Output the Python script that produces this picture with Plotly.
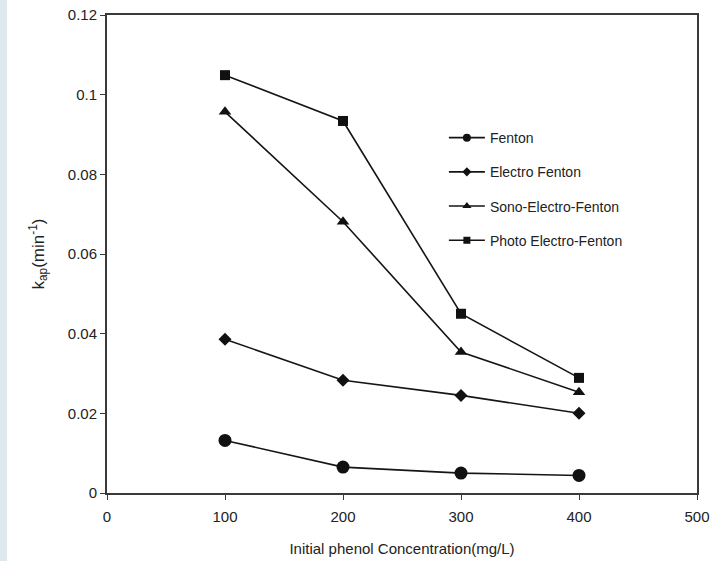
import plotly.graph_objects as go

concentration = [100, 200, 300, 400]
fenton = [0.0132, 0.0065, 0.0050, 0.0044]
electro_fenton = [0.0386, 0.0283, 0.0245, 0.0200]
sono_electro_fenton = [0.0957, 0.0681, 0.0354, 0.0253]
photo_electro_fenton = [0.1049, 0.0934, 0.0450, 0.0289]

series_names = ["Fenton", "Electro Fenton", "Sono-Electro-Fenton", "Photo Electro-Fenton"]
series_values = [fenton, electro_fenton, sono_electro_fenton, photo_electro_fenton]
symbols = ["circle", "diamond", "triangle-up", "square"]
sizes = [13, 10, 11, 10]
legend_sizes = [8, 7, 8, 7]

x_ticks = [0, 100, 200, 300, 400, 500]
y_ticks = [0, 0.02, 0.04, 0.06, 0.08, 0.1, 0.12]
y_tick_labels = ["0", "0.02", "0.04", "0.06", "0.08", "0.1", "0.12"]

fig = go.Figure()
for name, vals, sym, sz in zip(series_names, series_values, symbols, sizes):
    fig.add_trace(go.Scatter(
        x=concentration, y=vals, name=name, mode="lines+markers",
        showlegend=False,
        line=dict(color="#151515", width=1.6),
        marker=dict(symbol=sym, size=sz, color="#111111"),
    ))
# legend entries with smaller symbols, as in the reference
for name, sym, sz in zip(series_names, symbols, legend_sizes):
    fig.add_trace(go.Scatter(
        x=[None], y=[None], name=name, mode="lines+markers",
        legendgroup=name,
        line=dict(color="#151515", width=1.6),
        marker=dict(symbol=sym, size=sz, color="#111111"),
    ))

axis_common = dict(
    showline=True, linecolor="#3a3a3a", linewidth=2, mirror=True,
    ticks="outside", ticklen=5, tickwidth=1, tickcolor="#3a3a3a",
    showgrid=False, zeroline=False, automargin=False,
    tickfont=dict(family="Liberation Sans, Arial", size=15, color="#222"),
)

fig.update_layout(
    width=717, height=561,
    margin=dict(l=107, r=20, t=15, b=68),
    paper_bgcolor="white", plot_bgcolor="white",
    font=dict(family="Liberation Sans, Arial", color="#222"),
    xaxis=dict(range=[0, 500], tickvals=x_ticks, ticklabelstandoff=4,
               title=dict(text="Initial phenol Concentration(mg/L)",
                          font=dict(size=15), standoff=19),
               **axis_common),
    yaxis=dict(range=[0, 0.12], tickvals=y_ticks, ticktext=y_tick_labels,
               title=dict(text="k<sub>ap</sub>(min<sup>-1</sup>)",
                          font=dict(size=17), standoff=19),
               **axis_common),
    legend=dict(x=0.571, y=0.776, xanchor="left", yanchor="top",
                bgcolor="rgba(0,0,0,0)", borderwidth=0,
                font=dict(size=14, color="#222"),
                itemwidth=36, tracegroupgap=13, traceorder="grouped"),
    shapes=[dict(type="rect", xref="paper", yref="paper",
                 x0=-0.1814, x1=-0.1695, y0=-0.15, y1=1.04,
                 fillcolor="#dde8ef", line=dict(width=0), layer="below")],
)

fig.write_html("out.html", config={"displayModeBar": False},
               post_script="document.body.style.margin='0';")
